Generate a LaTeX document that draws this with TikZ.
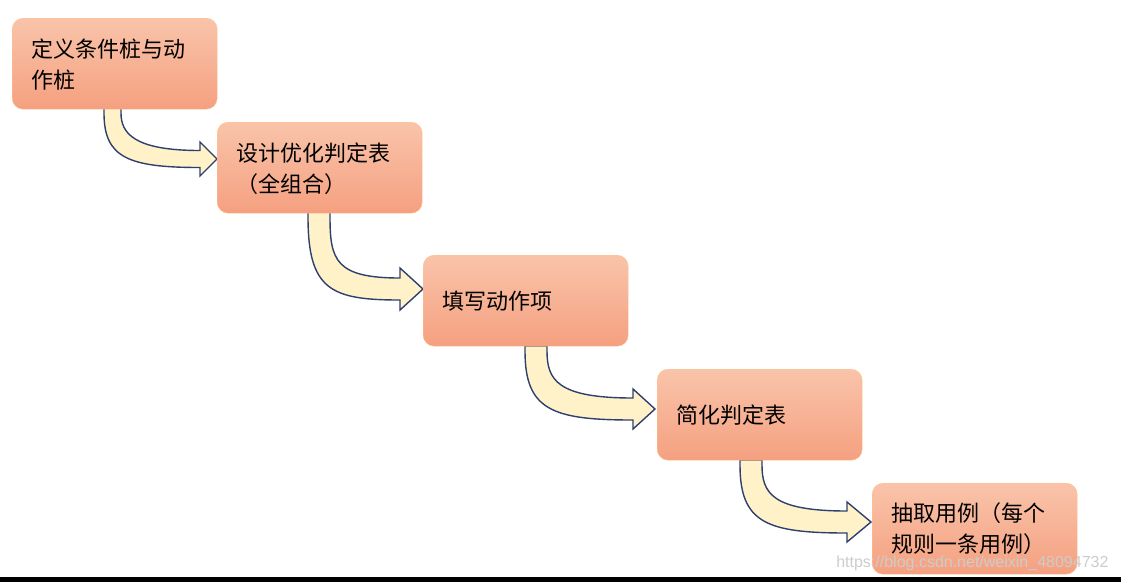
\documentclass[tikz,border=0pt]{standalone}
\usepackage{fontspec}
\setmainfont{Noto Sans CJK SC}
\newfontfamily\wm{Liberation Sans}
\begin{document}
\begin{tikzpicture}[x=1pt,y=-1pt,
  stepbox/.style={rounded corners=11pt,draw=orange!45!white,top color={rgb,255:red,249;green,196;blue,170},bottom color={rgb,255:red,245;green,160;blue,128},minimum width=205pt,minimum height=91pt,anchor=north west,inner sep=0pt},
  txt/.style={anchor=west,align=left,font=\fontsize{22}{31}\selectfont,text=black},
  bentarrow/.style={draw={rgb,255:red,47;green,64;blue,110},line width=1.4pt,fill={rgb,255:red,255;green,242;blue,200},line join=miter}]
\useasboundingbox (0,0) rectangle (1121,582);
\fill[white] (0,0) rectangle (1121,582);
\newcommand\bentarr[7]{% x0 y0 shaftw ym headhalf xh tip
  \pgfmathsetmacro\xa{#1+#3}
  \pgfmathsetmacro\yo{#4+#3/2}
  \pgfmathsetmacro\yi{#4-#3/2}
  \pgfmathsetmacro\hu{#4-#5}
  \pgfmathsetmacro\hd{#4+#5}
  \pgfmathsetmacro\cy{#2+5}
  \pgfmathsetmacro\ca{#1+0.25*(#6-#1)}
  \pgfmathsetmacro\cb{#1+0.3*(#6-#1)}
  \draw[bentarrow] (#1,#2) -- (#1,\cy) .. controls (#1,\yo-10) and (\ca,\yo) .. (#6,\yo) -- (#6,\hd) -- (#7,#4) -- (#6,\hu) -- (#6,\yi) .. controls (\cb,\yi) and (\xa,\yi-18) .. (\xa,\cy) -- (\xa,#2) -- cycle;
}
\bentarr{104}{108}{17}{159}{17}{200}{217}
\bentarr{308}{212}{22}{289}{21}{400}{423}
\bentarr{525}{346}{22}{409}{20}{633}{655}
\bentarr{740}{460}{22}{522}{20}{847}{871}
\node[stepbox] (b1) at (12,18) {};
\node[stepbox] (b2) at (217,122) {};
\node[stepbox] (b3) at (423,255) {};
\node[stepbox] (b4) at (657,369) {};
\node[stepbox] (b5) at (872,483) {};
\node[txt] (t1) at ([xshift=16pt,yshift=-1pt]b1.west) {定义条件桩与动\\作桩};
\node[txt] (t2) at ([xshift=16pt,yshift=-1pt]b2.west) {设计优化判定表\\（全组合）};
\node[txt] (t3) at ([xshift=16pt]b3.west) {填写动作项};
\node[txt] (t4) at ([xshift=16pt]b4.west) {简化判定表};
\node[txt] (t5) at ([xshift=16pt]b5.west) {抽取用例（每个\\规则一条用例）};
\fill[black] (0,577) rectangle (1121,582);
\node[font=\wm\fontsize{16}{16}\selectfont,text=gray!40,anchor=east] (wmk) at (1112,563) {https://blog.csdn.net/weixin\_48094732};
\end{tikzpicture}
\end{document}
